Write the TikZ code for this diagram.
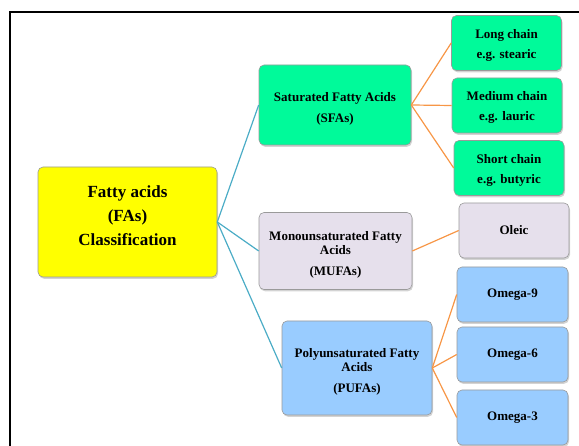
\documentclass[tikz,border=0pt]{standalone}
\usepackage{fontspec}
\setmainfont{Liberation Serif}
\usepackage{xcolor}
\usepackage{tikz}
\usetikzlibrary{shadows}
\definecolor{cyellow}{HTML}{FFFF00}
\definecolor{cgreen}{HTML}{00FA9A}
\definecolor{clilac}{HTML}{E6E0EC}
\definecolor{cblue}{HTML}{99CCFF}
\definecolor{cteal}{HTML}{4BACC6}
\definecolor{corange}{HTML}{F79646}
\definecolor{cedge}{HTML}{9A9A9A}
\tikzset{
  box/.style={draw=cedge,line width=0.6pt,rounded corners=5pt,align=center,inner sep=0pt,
    font=\bfseries\fontsize{13}{14}\selectfont,
    drop shadow={shadow xshift=1pt,shadow yshift=-1.8pt,opacity=0.35}},
  leaf/.style={box,minimum width=110pt,minimum height=55pt},
  tline/.style={cteal,line width=1.2pt},
  oline/.style={corange,line width=1.2pt}
}

\begin{document}
\begin{tikzpicture}[x=1pt,y=-1pt]
\useasboundingbox (0,0) rectangle (579,446);

% ===== frame =====
\draw[line width=2pt] (10,450) -- (10,12) -- (582,12);

% ===== root and groups =====
\node[box,fill=cyellow,minimum width=179pt,minimum height=110pt,font=\bfseries\fontsize{17}{24}\selectfont] (fa) at (127.5,222) {Fatty acids\\(FAs)\\Classification\\[-12pt]};
\node[box,fill=cgreen,minimum width=152pt,minimum height=80pt] (sfa) at (335,105) {\\[3pt]Saturated Fatty Acids\\[7pt](SFAs)};
\node[box,fill=clilac,minimum width=153pt,minimum height=77pt] (mufa) at (335.5,251) {\\[3pt]Monounsaturated Fatty\\Acids\\[7pt](MUFAs)};
\node[box,fill=cblue,minimum width=150pt,minimum height=94pt] (pufa) at (357,368) {\\[3pt]Polyunsaturated Fatty\\Acids\\[7pt](PUFAs)};

% ===== leaves =====
\node[leaf,fill=cgreen] (lng) at (506.5,43) {\\[-1pt]Long chain\\[6pt]e.g. stearic};
\node[leaf,fill=cgreen] (med) at (507,105.5) {\\[-1pt]Medium chain\\[6pt]e.g. lauric};
\node[leaf,fill=cgreen] (shrt) at (509,168) {\\[-1pt]Short chain\\[6pt]e.g. butyric};
\node[leaf,fill=clilac] (oleic) at (514,230.5) {Oleic};
\node[leaf,fill=cblue,minimum width=111pt] (om9) at (512.5,294.5) {Omega-9};
\node[leaf,fill=cblue,minimum width=111pt] (om6) at (512.5,354.5) {Omega-6};
\node[leaf,fill=cblue,minimum width=111pt] (om3) at (512.5,417.5) {Omega-3};

% ===== connectors =====
\draw[tline] (fa.east) -- (sfa.west);
\draw[tline] (fa.east) -- (mufa.west);
\draw[tline] (fa.east) -- (pufa.west);
\foreach \t in {lng,med,shrt} \draw[oline] (sfa.east) -- (\t.west);
\draw[oline] (mufa.east) -- (oleic.west);
\foreach \t in {om9,om6,om3} \draw[oline] (pufa.east) -- (\t.west);

\end{tikzpicture}
\end{document}
